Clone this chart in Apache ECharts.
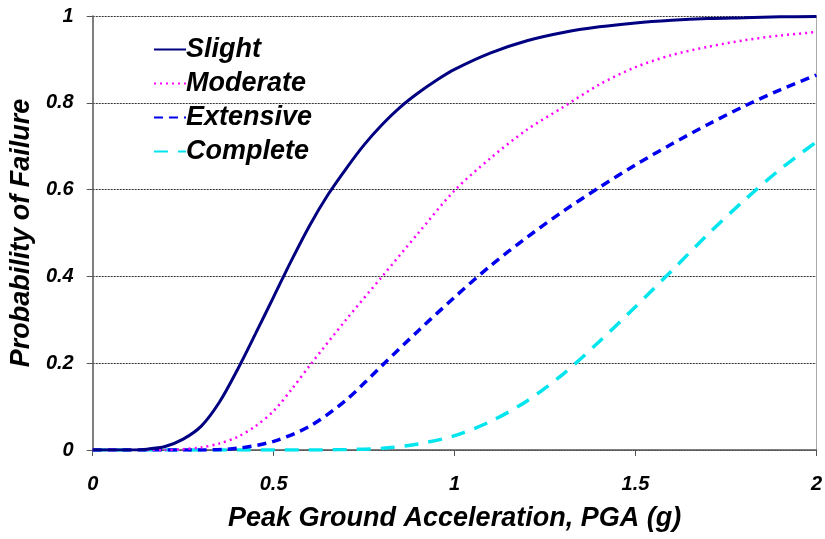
<!DOCTYPE html>
<html>
<head>
<meta charset="utf-8">
<script src="https://cdn.jsdelivr.net/npm/echarts@6/dist/echarts.min.js"></script>
<style>html,body{margin:0;padding:0;background:#fff;}#c{width:825px;height:539px;}</style>
</head>
<body>
<div id="c"></div>
<script>
var slightX    = [0,0.1,0.15,0.2,0.25,0.3,0.35,0.4,0.45,0.5,0.55,0.6,0.65,0.7,0.75,0.8,0.85,0.9,0.95,1.0,1.1,1.2,1.3,1.4,1.5,1.6,1.7,1.8,1.9,2.0];
var slightY    = [0,0,0.002,0.008,0.025,0.055,0.11,0.185,0.268,0.353,0.438,0.518,0.588,0.648,0.703,0.75,0.79,0.823,0.852,0.877,0.915,0.943,0.962,0.975,0.984,0.99,0.994,0.996,0.998,0.999];
var moderateX  = [0,0.2,0.25,0.3,0.35,0.4,0.45,0.5,0.55,0.6,0.7,0.8,0.9,1.0,1.1,1.2,1.3,1.4,1.5,1.6,1.7,1.8,1.9,2.0];
var moderateY  = [0,0,0.002,0.006,0.015,0.03,0.055,0.09,0.14,0.195,0.3,0.4,0.5,0.598,0.673,0.738,0.79,0.842,0.882,0.91,0.929,0.944,0.955,0.963];
var extensiveX = [0,0.3,0.4,0.5,0.6,0.7,0.8,0.9,1.0,1.1,1.2,1.3,1.4,1.5,1.6,1.7,1.8,1.9,2.0];
var extensiveY = [0,0,0.004,0.02,0.055,0.115,0.195,0.275,0.352,0.425,0.49,0.55,0.605,0.657,0.705,0.75,0.792,0.83,0.864];
var completeX  = [0,0.6,0.7,0.8,0.9,1.0,1.1,1.2,1.3,1.4,1.5,1.6,1.7,1.8,1.9,2.0];
var completeY  = [0,0,0.001,0.004,0.014,0.033,0.066,0.113,0.175,0.25,0.33,0.413,0.497,0.575,0.647,0.71];
var seriesNames = ['Slight','Moderate','Extensive','Complete'];
var xTicks = ['0','0.5','1','1.5','2'];
var yTicks = ['0','0.2','0.4','0.6','0.8','1'];

function pairs(xs, ys){ return xs.map(function(x,i){ return [x, ys[i]]; }); }

var font = '"Liberation Sans", Arial, sans-serif';
var chart = echarts.init(document.getElementById('c'));
var styles = [
  {color:'#000080', width:3, type:'solid'},
  {color:'#FF00FF', width:2.5, type:[2,4]},
  {color:'#0000EE', width:3.5, type:[9,6]},
  {color:'#00E5EE', width:3.5, type:[14,10]}
];
var allData = [pairs(slightX, slightY), pairs(moderateX, moderateY), pairs(extensiveX, extensiveY), pairs(completeX, completeY)];
chart.setOption({
  animation:false,
  backgroundColor:'#fff',
  grid:{left:92, right:5, top:16, bottom:89},
  legend:{
    orient:'vertical', left:148, top:31, itemWidth:32, itemHeight:14, itemGap:7,
    data:seriesNames,
    itemStyle:{opacity:0},
    textStyle:{fontFamily:font, fontSize:27, fontStyle:'italic', fontWeight:'bold', color:'#000', lineHeight:27, padding:[0,0,0,-5]}
  },
  xAxis:{
    type:'value', min:0, max:2, interval:0.5,
    axisLine:{lineStyle:{color:'#555', width:1.5}},
    axisTick:{show:true, length:6, lineStyle:{color:'#555'}},
    splitLine:{show:false},
    axisLabel:{fontFamily:font, fontSize:20, fontStyle:'italic', fontWeight:'bold', color:'#000', margin:24,
      formatter:function(v){ var s=String(v); return xTicks.indexOf(s)>=0?s:''; }},
    name:'Peak Ground Acceleration, PGA (g)', nameLocation:'middle', nameGap:55,
    nameTextStyle:{fontFamily:font, fontSize:27, fontStyle:'italic', fontWeight:'bold', color:'#000'}
  },
  yAxis:[{
    type:'value', min:0, max:1, interval:0.2,
    axisLine:{show:true, lineStyle:{color:'#555', width:1.5}},
    axisTick:{show:true, length:6, lineStyle:{color:'#555'}},
    splitLine:{show:true, lineStyle:{color:'#333', width:1, type:[2,1]}},
    axisLabel:{fontFamily:font, fontSize:20, fontStyle:'italic', fontWeight:'bold', color:'#000', margin:19,
      formatter:function(v){ var s=String(Math.round(v*10)/10); return yTicks.indexOf(s)>=0?s:''; }},
    name:'Probability of Failure', nameLocation:'middle', nameGap:54, nameRotate:90,
    nameTextStyle:{fontFamily:font, fontSize:27, fontStyle:'italic', fontWeight:'bold', color:'#000'}
  },{
    type:'value', min:0, max:1, position:'right',
    axisLine:{show:true, lineStyle:{color:'#aaa', width:1}},
    axisTick:{show:false}, axisLabel:{show:false}, splitLine:{show:false}
  }],
  series: seriesNames.map(function(n,i){
    return {
      name:n, type:'line', data:allData[i], symbol:'none',
      smooth:0.3, z: 10-i,
      lineStyle:styles[i], itemStyle:{color:styles[i].color}
    };
  })
});
</script>
</body>
</html>
